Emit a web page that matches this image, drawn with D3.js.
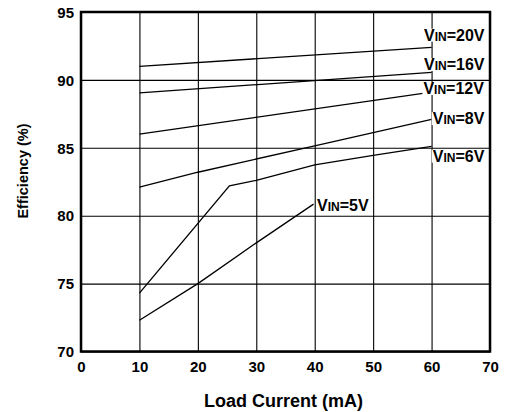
<!DOCTYPE html>
<html><head><meta charset="utf-8">
<script src="https://cdn.jsdelivr.net/npm/d3@7"></script>
<style>
body{margin:0;background:#fff;}
text{font-family:"Liberation Sans",Arial,sans-serif;font-weight:bold;fill:#000;}
</style></head>
<body><svg id="c" width="517" height="412"></svg>
<script>
// ---- data ----
const xTicks = [0,10,20,30,40,50,60,70];
const yTicks = [70,75,80,85,90,95];
const xLabel = "Load Current (mA)";
const yLabel = "Efficiency (%)";
const seriesNames = ["20V","16V","12V","8V","6V","5V"];
const x20 = [10,60],            y20 = [91.0,92.4];
const x16 = [10,60],            y16 = [89.05,90.55];
const x12 = [10,60],            y12 = [86.0,89.1];
const x8  = [10,20,40,60],      y8  = [82.1,83.2,85.15,87.1];
const x6  = [10,25.4,30,40,50,60], y6 = [74.3,82.2,82.6,83.75,84.45,85.1];
const x5  = [10,20,30,39.8],    y5  = [72.3,75.0,78.0,80.85];
const labelX = [58.7,58.7,58.6,60.2,60.2,40.4];
const labelY = [92.89,90.73,88.96,86.75,83.98,80.35];

const svg = d3.select("#c");
const L=81,R=490,T=12,B=351.5;
const x = d3.scaleLinear().domain([0,70]).range([L,R]);
const y = d3.scaleLinear().domain([70,95]).range([B,T]);

// grid
svg.append("g").attr("transform",`translate(0,${B})`)
  .call(d3.axisBottom(x).tickValues(xTicks).tickSize(-(B-T)).tickFormat(d3.format("d")))
  .call(g=>{g.select(".domain").remove();
    g.selectAll("line").attr("stroke","#000").attr("stroke-width",1.1);
    g.selectAll("text").attr("y",20).attr("dy",0).style("font-size","15px");});
svg.append("g").attr("transform",`translate(${L},0)`)
  .call(d3.axisLeft(y).tickValues(yTicks).tickSize(-(R-L)).tickFormat(d3.format("d")))
  .call(g=>{g.select(".domain").remove();
    g.selectAll("line").attr("stroke","#000").attr("stroke-width",1.1);
    g.selectAll("text").attr("x",-7).attr("dy","0.35em").style("font-size","15px");});

// series
const xs=[x20,x16,x12,x8,x6,x5], ys=[y20,y16,y12,y8,y6,y5];
const line = d3.line().x(d=>x(d[0])).y(d=>y(d[1]));
xs.forEach((xv,i)=>{
  svg.append("path").datum(xv.map((v,j)=>[v,ys[i][j]]))
    .attr("d",line).attr("fill","none").attr("stroke","#000").attr("stroke-width",1.3);
});

// labels
seriesNames.forEach((n,i)=>{
  const g=svg.append("g");
  const t=g.append("text").attr("x",x(labelX[i])).attr("y",y(labelY[i])).style("font-size","16px");
  t.append("tspan").text("V");
  t.append("tspan").style("font-size","12px").text("IN");
  t.append("tspan").text("="+n);
  const bb=t.node().getBBox();
  g.insert("rect","text").attr("x",bb.x-1).attr("y",bb.y+2).attr("width",bb.width+2).attr("height",bb.height-4).attr("fill","#fff");
});

// frame
svg.append("rect").attr("x",L).attr("y",T).attr("width",R-L).attr("height",B-T)
  .attr("fill","none").attr("stroke","#000").attr("stroke-width",2.5);

// axis titles
svg.append("text").attr("x",(L+R)/2-2).attr("y",407).attr("text-anchor","middle").style("font-size","18px").text(xLabel);
svg.append("text").attr("transform","translate(28,171) rotate(-90)").attr("text-anchor","middle").style("font-size","14.5px").text(yLabel);
</script></body></html>
